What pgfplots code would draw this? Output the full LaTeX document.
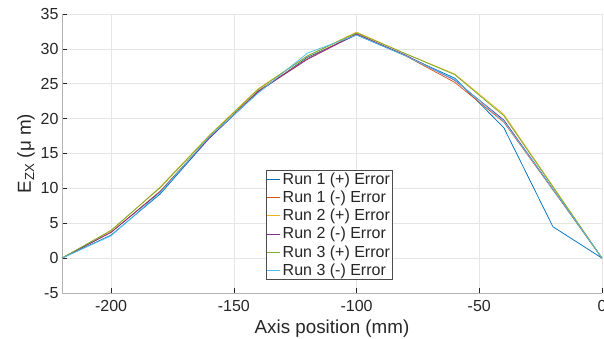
\documentclass[border=0pt]{standalone}
\usepackage{fontspec}
\setmainfont{Liberation Sans}
\usepackage{pgfplots}
\pgfplotsset{compat=1.18}
\definecolor{c1}{rgb}{0,0.447,0.741}
\definecolor{c2}{rgb}{0.85,0.325,0.098}
\definecolor{c3}{rgb}{0.929,0.694,0.125}
\definecolor{c4}{rgb}{0.494,0.184,0.556}
\definecolor{c5}{rgb}{0.466,0.674,0.188}
\definecolor{c6}{rgb}{0.301,0.745,0.933}
\begin{document}
\begin{tikzpicture}
\begin{axis}[
  scale only axis, width=540pt, height=279pt,
  xmin=-220, xmax=0, ymin=-5, ymax=35,
  xtick={-200,-150,-100,-50,0},
  ytick={-5,0,5,...,35},
  axis x line*=bottom, axis y line*=left,
  axis line style={gray!60, line width=0.6pt},
  tick style={black!85, line width=0.6pt},
  tick align=inside, major tick length=5pt,
  grid=major, major grid style={gray!20, line width=0.6pt},
  /pgf/number format/assume math mode=true,
  tick label style={font=\fontsize{16}{18}\selectfont, text=black!85},
  xticklabel style={yshift=-4pt},
  label style={font=\fontsize{18.8}{21}\selectfont, text=black!85},
  xlabel={Axis position (mm)},
  ylabel={E\textsubscript{ZX} (μ m)},
  xlabel style={yshift=-1pt},
  ylabel style={yshift=-1pt},
  legend style={at={(0.378,0.047)}, anchor=south west, font=\fontsize{16}{18}\selectfont,
    draw=black!70, line width=0.6pt, inner sep=0.5pt, row sep=1.2pt, text=black!85},
  legend cell align=left,
  legend image code/.code={\draw[#1, line width=0.8pt] (0pt,0pt) -- (13pt,0pt);},
  every axis plot/.append style={line width=0.75pt},
]
\addplot[c1] coordinates {(-220,0) (-200,3.3) (-180,9.2) (-160,17.2) (-140,23.8) (-120,28.8) (-100,32.0) (-80,29.0) (-60,25.8) (-40,18.7) (-20,4.5) (0,0)};
\addlegendentry{Run 1 (+) Error}
\addplot[c2] coordinates {(-220,0) (-200,3.7) (-180,9.6) (-160,17.3) (-140,24.0) (-120,28.6) (-100,32.2) (-80,29.0) (-60,25.2) (-40,19.5) (-20,9.8) (0,0)};
\addlegendentry{Run 1 (-) Error}
\addplot[c3] coordinates {(-220,0) (-200,3.9) (-180,10.2) (-160,17.6) (-140,24.3) (-120,29.0) (-100,32.4) (-80,29.3) (-60,26.4) (-40,20.6) (-20,10.3) (0,0)};
\addlegendentry{Run 2 (+) Error}
\addplot[c4] coordinates {(-220,0) (-200,3.7) (-180,9.5) (-160,17.2) (-140,23.9) (-120,28.5) (-100,32.1) (-80,29.1) (-60,25.5) (-40,19.8) (-20,9.9) (0,0)};
\addlegendentry{Run 2 (-) Error}
\addplot[c5] coordinates {(-220,0) (-200,4.0) (-180,10.1) (-160,17.5) (-140,24.2) (-120,29.0) (-100,32.3) (-80,29.3) (-60,26.3) (-40,20.4) (-20,10.2) (0,0)};
\addlegendentry{Run 3 (+) Error}
\addplot[c6] coordinates {(-220,0) (-200,3.2) (-180,9.4) (-160,17.4) (-140,23.7) (-120,29.4) (-100,32.0) (-80,29.0) (-60,25.6) (-40,19.6) (-20,9.9) (0,0)};
\addlegendentry{Run 3 (-) Error}
\end{axis}
\pgfresetboundingbox
\useasboundingbox ([xshift=-62pt,yshift=-46pt]current axis.south west) rectangle ([xshift=2pt,yshift=14pt]current axis.north east);
\end{tikzpicture}
\end{document}
